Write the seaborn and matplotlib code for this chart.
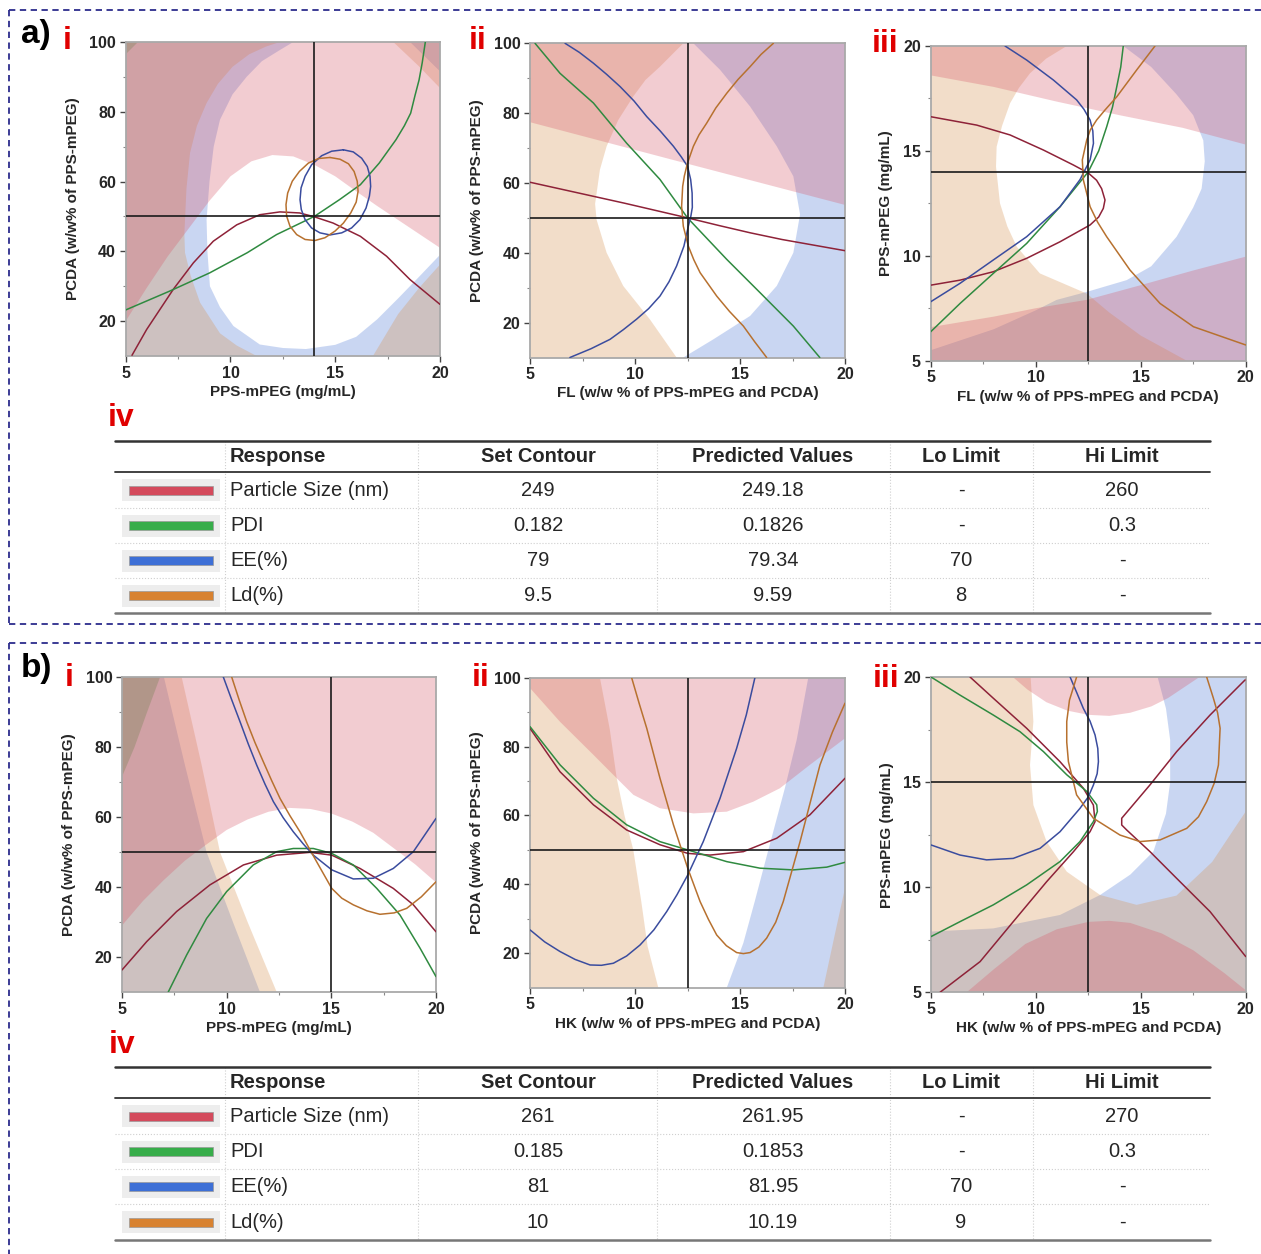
import matplotlib
matplotlib.use("Agg")
import matplotlib.pyplot as plt
from matplotlib.path import Path
from matplotlib.patches import PathPatch, Rectangle
import seaborn as sns

sns.set_theme(style="ticks")
plt.rcParams["font.family"] = ["Liberation Sans", "DejaVu Sans"]

W, H = 1261, 1254

# ---------------------------------------------------------------------------
# Response names and optimisation tables
# ---------------------------------------------------------------------------
HEADERS = ["Response", "Set Contour", "Predicted Values", "Lo Limit", "Hi Limit"]
RESPONSES = ["Particle Size (nm)", "PDI", "EE(%)", "Ld(%)"]
RESPONSE_KEYS = ["size", "pdi", "ee", "ld"]

A_SET = ["249", "0.182", "79", "9.5"]
A_PRED = ["249.18", "0.1826", "79.34", "9.59"]
A_LO = ["-", "-", "70", "8"]
A_HI = ["260", "0.3", "-", "-"]

B_SET = ["261", "0.185", "81", "10"]
B_PRED = ["261.95", "0.1853", "81.95", "10.19"]
B_LO = ["-", "-", "70", "9"]
B_HI = ["270", "0.3", "-", "-"]

A_XLABELS = ["PPS-mPEG (mg/mL)", "FL (w/w % of PPS-mPEG and PCDA)", "FL (w/w % of PPS-mPEG and PCDA)"]
A_YLABELS = ["PCDA (w/w% of PPS-mPEG)", "PCDA (w/w% of PPS-mPEG)", "PPS-mPEG (mg/mL)"]
B_XLABELS = ["PPS-mPEG (mg/mL)", "HK (w/w % of PPS-mPEG and PCDA)", "HK (w/w % of PPS-mPEG and PCDA)"]
B_YLABELS = ["PCDA (w/w% of PPS-mPEG)", "PCDA (w/w% of PPS-mPEG)", "PPS-mPEG (mg/mL)"]

# ---------------------------------------------------------------------------
# a-i : PPS-mPEG vs PCDA (FL fixed)
# ---------------------------------------------------------------------------
a1_cross = (14, 50)
a1_size = [(5.3, 10.2), (6.0, 17.6), (6.64, 23.4), (7.27, 29.1), (8.23, 36.7), (9.18, 42.9),
           (10.3, 47.6), (11.4, 50.5), (12.36, 51.3), (13.3, 51.0), (14.0, 49.9), (14.9, 48.1),
           (16.2, 44.3), (17.45, 38.6), (18.57, 31.9), (20, 24.8)]
a1_pdi = [(5, 23.2), (7.1, 28.6), (9.0, 33.8), (10.8, 39.6), (12.2, 44.8), (14, 50), (15.2, 54.8),
          (16.2, 59.1), (17.1, 65.3), (17.9, 72), (18.3, 76), (18.6, 79.6), (18.8, 84.5), (19.0, 89.1),
          (19.15, 94), (19.3, 100)]
a1_ee = [(15.39, 69.1), (15.86, 68.5), (16.26, 66.7), (16.53, 64.3), (16.66, 61.5), (16.69, 58.6),
         (16.63, 55.8), (16.47, 52.4), (16.18, 49.1), (15.78, 46.7), (15.31, 45.3), (14.75, 44.7),
         (14.27, 45.3), (13.87, 46.7), (13.56, 49.1), (13.38, 52.0), (13.32, 54.8), (13.37, 58.2),
         (13.56, 61.5), (13.87, 64.8), (14.35, 67.4), (14.83, 68.7), (15.39, 69.1)]
a1_ld = [(14.75, 66.9), (15.23, 66.4), (15.63, 65.1), (15.9, 62.9), (16.05, 60.1), (16.09, 57.2),
         (16.0, 54.1), (15.74, 51.0), (15.39, 48.1), (14.99, 45.8), (14.51, 43.9), (14.03, 43.1),
         (13.56, 43.4), (13.16, 44.8), (12.84, 47.2), (12.68, 50.1), (12.65, 53.4), (12.73, 56.7),
         (12.95, 60.1), (13.29, 62.9), (13.72, 65.3), (14.2, 66.6), (14.75, 66.9)]
a1_size_edge = [(5, 20), (6, 29.5), (7, 38.5), (8, 46.5), (9, 54.5), (10, 61.5), (11, 65.8), (12, 67.6),
                (13, 67.2), (14, 64.8), (15, 61.5), (16, 57.2), (17, 53), (18, 49), (19, 45), (20, 41)]
a1_pdi_edge = [(5, 96.5), (5, 100), (5.6, 100)]
a1_ee_edge = [(8.86, 49), (9.0, 60), (9.2, 70), (9.5, 77.7), (10.1, 85), (10.77, 90), (11.5, 94.5),
              (12.36, 97.7), (13, 100), (14, 104), (17, 104), (18.57, 100), (20, 91.6), (21, 85),
              (21, 45), (20, 39), (19, 32.7), (18, 26.5), (17, 20.5), (16, 15.5), (15, 13.2),
              (13.6, 12), (12.5, 12.3), (11.4, 13.3), (10.14, 18.6), (9.5, 24), (9.02, 30), (8.9, 40)]
a1_ld_edge = [(7.8, 45), (7.9, 58), (8.07, 68.2), (8.4, 76), (8.86, 82.5), (9.4, 88), (10.1, 92.9),
              (10.9, 96.5), (11.7, 98.7), (12.36, 100), (13, 103), (17, 103), (17.77, 100), (19, 93),
              (20, 86.8), (21, 80), (21, 40), (20, 36.2), (19, 29.5), (18, 22), (17.3, 15), (16.8, 10),
              (16.5, 7), (11.5, 7), (11.25, 10), (10.3, 13), (9.5, 16.5), (8.55, 25.3), (8.1, 33),
              (7.83, 39.6)]

# ---------------------------------------------------------------------------
# a-ii : FL vs PCDA (PPS-mPEG fixed)
# ---------------------------------------------------------------------------
a2_cross = (12.5, 50)
a2_size = [(5, 60.2), (6.5, 58.2), (8, 56.2), (9.5, 54.2), (11, 52.1), (12.5, 50), (14, 47.8),
           (15.5, 45.7), (17, 43.8), (18.5, 42.2), (20, 40.6)]
a2_pdi = [(5.24, 100), (6.43, 91.4), (8.02, 82.9), (9.6, 71.4), (11.19, 61), (12.5, 50), (14.37, 38.1),
          (15.95, 28.6), (17.54, 19), (18.8, 10)]
a2_ee = [(6.67, 100), (7.35, 97.4), (8.02, 94.3), (8.65, 91.1), (9.29, 87.6), (9.95, 83.5), (10.56, 79),
         (11.2, 74.9), (11.83, 70.5), (12.2, 67.5), (12.5, 64.8), (12.65, 61), (12.72, 57.1),
         (12.73, 53), (12.66, 50.5), (12.54, 47.6), (12.33, 41.9), (11.98, 36.2), (11.62, 31.7),
         (11.19, 27.6), (10.65, 24), (10.08, 21), (9.45, 18), (8.81, 15.2), (7.9, 12.5), (6.9, 10)]
a2_ld = [(16.59, 100), (16.0, 96.8), (15.48, 93.3), (14.9, 89.6), (14.37, 85.7), (13.85, 81.5),
         (13.41, 77.1), (13.05, 73.8), (12.78, 70.5), (12.5, 65.7), (12.35, 62), (12.27, 59),
         (12.22, 53.3), (12.3, 47.6), (12.54, 41.9), (12.8, 38), (13.1, 34.3), (13.89, 27.6),
         (14.5, 23.2), (15.16, 19), (15.7, 14.5), (16.27, 10)]
a2_size_edge = [(5, 77.4), (12.5, 65.5), (20, 53.7)]
a2_ld_edge = [(11.98, 10), (10.7, 21), (9.44, 30.5), (8.65, 40), (8.17, 49.5), (8.1, 54), (8.33, 63.8),
              (8.65, 70.5), (9.2, 78), (9.92, 84.8), (10.5, 89.5), (11.19, 93.3), (11.8, 97), (12.3, 100)]
a2_ee_edge = [(12.3, 10), (13.73, 15.2), (15.48, 21.9), (16.75, 30.5), (17.54, 40), (17.86, 51),
              (17.54, 61.9), (16.75, 70.5), (15.48, 81.9), (14.05, 92.4), (12.78, 100)]

# ---------------------------------------------------------------------------
# a-iii : FL vs PPS-mPEG (PCDA fixed)
# ---------------------------------------------------------------------------
a3_cross = (12.5, 14)
a3_size = [(5, 16.63), (7.19, 16.23), (8.78, 15.76), (10.37, 15.04), (11.79, 14.33), (12.5, 13.95),
           (12.9, 13.6), (13.14, 13.2), (13.3, 12.66), (13.22, 12.26), (13.0, 11.85), (12.59, 11.47),
           (11.16, 10.67), (9.57, 9.88), (7.98, 9.24), (6.4, 8.84), (5, 8.6)]
a3_pdi = [(5, 6.38), (6.4, 7.73), (7.98, 9.16), (9.57, 10.59), (11.16, 12.34), (12.5, 14),
          (13.0, 15.0), (13.38, 16.15), (13.66, 17.1), (13.86, 18.06), (14.05, 19.0), (14.17, 20)]
a3_ee = [(5, 7.81), (6.4, 8.69), (7.98, 9.8), (9.57, 10.91), (11.16, 12.34), (12.11, 13.63),
         (12.59, 14.57), (12.75, 15.36), (12.72, 15.95), (12.59, 16.47), (12.3, 16.98), (11.95, 17.43),
         (10.84, 18.38), (9.57, 19.33), (8.54, 20)]
a3_ld = [(15.68, 20), (14.81, 18.86), (13.86, 17.58), (13.3, 16.95), (12.9, 16.47), (12.6, 16.0),
         (12.43, 15.52), (12.22, 14.57), (12.27, 13.61), (12.59, 12.34), (12.95, 11.6), (13.38, 10.91),
         (14.49, 9.32), (15.92, 7.73), (17.51, 6.62), (20, 5.75)]
a3_size_top = [(5, 18.6), (8, 18.05), (11, 17.35), (14, 16.7), (17, 16.1), (20, 15.3)]
a3_size_bottom = [(5, 6.6), (8, 7.1), (10, 7.5), (12.43, 7.9), (15, 8.6), (17.5, 9.3), (20, 9.96)]
a3_ld_edge = [(11.48, 20), (10.5, 19.4), (9.73, 18.7), (9.2, 18), (8.78, 17.27), (8.4, 16.2),
              (8.14, 15.2), (8.11, 14.25), (8.3, 12.5), (8.65, 11.4), (9.1, 10.43), (10.2, 9.16),
              (11.5, 8.6), (12.43, 8.2), (13.5, 7.3), (15, 6.2), (17.19, 5)]
a3_ee_edge = [(14.17, 20), (15.5, 19), (16.7, 17.7), (17.5, 16.7), (17.98, 15.5), (18.05, 14.5),
              (17.9, 13.2), (17.5, 12.3), (16.71, 10.91), (15.5, 9.5), (14.33, 8.84), (12.5, 8.3),
              (11, 7.9), (10, 7.4), (8, 6.5), (5, 5.5)]

# ---------------------------------------------------------------------------
# b-i : PPS-mPEG vs PCDA (HK fixed)
# ---------------------------------------------------------------------------
b1_cross = (15, 50)
b1_size = [(5, 16.3), (6.18, 24.4), (7.61, 33), (9.2, 40.6), (10.8, 46.3), (12.39, 49.1), (13.98, 49.9),
           (15.02, 49.1), (16.37, 45.3), (17.96, 39.6), (18.92, 34.9), (20, 27.2)]
b1_pdi = [(7.21, 10), (8.09, 20.6), (9.04, 31), (10, 38.7), (11.27, 46.3), (12.39, 50.1), (13.18, 51),
          (14.14, 51), (15.02, 49.6), (16.05, 46.3), (17.17, 39.6), (18.28, 32), (19.24, 22.5), (20, 14.4)]
b1_ee = [(9.84, 100), (10.24, 93.5), (10.64, 87.2), (11.03, 80.9), (11.43, 74.9), (11.83, 69.4),
         (12.23, 64.4), (12.7, 59.8), (13.18, 55.8), (13.66, 52.3), (14.14, 49.1), (15.02, 44.9),
         (16.05, 42.3), (17.01, 42.5), (17.96, 45.3), (18.92, 50.1), (20, 59.6)]
b1_ld = [(10.24, 100), (10.6, 93.4), (10.96, 87.2), (11.35, 81.3), (11.75, 75.8), (12.15, 70.4),
         (12.55, 65.3), (13.02, 60.4), (13.5, 55.8), (14.3, 47.2), (15.02, 39.6), (15.5, 36.8),
         (16.05, 34.9), (16.7, 33.2), (17.32, 32.2), (18.0, 32.6), (18.6, 33.9), (19.3, 37.2), (20, 41.5)]
b1_size_edge = [(5, 29), (6, 36), (7, 42), (8, 47.5), (9, 52), (10, 56.3), (11, 59.3), (12, 61.5),
                (13, 62.6), (14, 62.3), (15, 61), (16, 58.7), (17, 55.5), (18, 51), (19, 46.5), (20, 41.3)]
b1_pdi_edge = [(6.82, 100), (6.2, 90), (5.6, 80), (5, 71.5)]
b1_ee_edge = [(7.0, 100), (8.0, 75), (9.04, 50), (10.3, 30), (11.59, 10)]
b1_ld_edge = [(7.85, 100), (8.8, 75), (9.68, 50), (11.0, 30), (12.39, 10)]

# ---------------------------------------------------------------------------
# b-ii : HK vs PCDA (PPS-mPEG fixed)
# ---------------------------------------------------------------------------
b2_cross = (12.5, 50)
b2_size = [(5, 85.3), (6.43, 72.7), (8.02, 63.1), (9.6, 55.8), (11.19, 51.5), (12.51, 49), (13.57, 48.5),
           (15.16, 49.5), (16.75, 53.4), (18.33, 60.2), (20, 70.8)]
b2_pdi = [(5, 85.8), (6.43, 74.7), (8.02, 65), (9.6, 57.3), (11.19, 52.4), (12.51, 50), (14.37, 46.6),
          (15.95, 44.7), (17.54, 44.2), (19.13, 45), (20, 46.4)]
b2_ee = [(5, 26.8), (5.7, 23.3), (6.43, 20.5), (7.15, 18.2), (7.86, 16.6), (8.4, 16.5), (8.97, 17.1),
         (9.6, 19.2), (10.24, 22.4), (10.9, 26.8), (11.51, 32.1), (12.0, 37.0), (12.51, 42.7),
         (13.25, 52.4), (14.05, 65), (14.84, 79.5), (15.3, 89.2), (15.71, 100)]
b2_ld = [(9.84, 100), (10.2, 92.5), (10.56, 85.3), (11.19, 70.8), (11.83, 57.3), (12.51, 44.7),
         (13.1, 35), (13.5, 29.8), (13.89, 25.3), (14.35, 22.2), (14.84, 20.2), (15.16, 19.9),
         (15.48, 20.2), (15.9, 21.8), (16.27, 24.4), (16.7, 29), (17.06, 35), (17.86, 52.4),
         (18.81, 74.7), (19.4, 84.2), (20, 92.6)]
b2_size_edge = [(5, 97), (6.43, 87.2), (8.02, 77.6), (9.13, 70.8), (9.92, 66), (11.19, 62.1), (12.78, 60.6),
                (14.37, 61.1), (15.63, 64), (16.9, 67.9), (18.33, 74.7), (20, 82.4)]
b2_ld_edge = [(8.33, 100), (8.8, 85), (9.13, 70.8), (9.5, 60), (9.92, 50), (10.3, 35), (10.6, 22), (11.11, 10)]
b2_ld_edge_right = [(18.97, 10), (19.5, 25), (20, 38.9)]
b2_ee_edge = [(18.25, 100), (17.7, 82), (17.14, 68), (16.35, 50), (15.7, 35), (15.16, 23), (14.37, 10)]

# ---------------------------------------------------------------------------
# b-iii : HK vs PPS-mPEG (PCDA fixed)
# ---------------------------------------------------------------------------
b3_cross = (12.5, 15)
b3_size_left = [(6.86, 20), (7.97, 18.99), (9.56, 17.56), (11.15, 15.97), (12.26, 14.71), (12.74, 13.91),
                (12.82, 13.12), (12.58, 12.64), (11.79, 11.69), (10.51, 10.26), (8.92, 8.36), (7.34, 6.46),
                (5.43, 5)]
b3_size_right = [(19.97, 19.86), (18.3, 18.19), (16.71, 16.45), (15.44, 14.87), (14.49, 13.75),
                 (14.09, 13.28), (14.09, 12.96), (14.33, 12.72), (15.44, 11.69), (16.71, 10.42),
                 (18.3, 8.84), (20, 6.7)]
b3_pdi = [(5, 20), (6.38, 19.14), (7.97, 18.19), (9.24, 17.4), (10.36, 16.45), (11.47, 15.35),
          (12.42, 14.56), (12.9, 13.92), (12.93, 13.6), (12.74, 13.12), (12.1, 12.17), (11.15, 11.22),
          (9.56, 10.11), (7.97, 9.16), (6.38, 8.36), (5, 7.65)]
b3_ee = [(5, 12.01), (6.38, 11.53), (7.65, 11.3), (8.92, 11.37), (10.2, 11.85), (11.15, 12.64),
         (12.1, 13.75), (12.5, 14.3), (12.74, 14.86), (12.92, 15.4), (12.98, 15.97), (12.95, 16.6),
         (12.82, 17.24), (12.58, 17.9), (12.26, 18.51), (11.95, 19.25), (11.63, 20)]
b3_ld = [(11.94, 20), (11.6, 18.9), (11.47, 17.88), (11.47, 16.9), (11.55, 15.97), (11.94, 14.39),
         (12.74, 13.28), (14.01, 12.48), (14.96, 12.17), (15.92, 12.25), (17.19, 12.8), (17.75, 13.35),
         (18.14, 14.07), (18.5, 14.95), (18.7, 15.81), (18.78, 17.56), (18.66, 18.3), (18.46, 18.99),
         (18.14, 20)]
b3_size_top = [(8.9, 20), (9.6, 19.4), (10.5, 18.8), (11.5, 18.4), (12.5, 18.2), (13.5, 18.15),
               (14.5, 18.3), (15.5, 18.6), (16.3, 19.0), (17.2, 19.6), (17.8, 20)]
b3_size_bottom = [(6.7, 5), (8, 6.1), (9.5, 7.3), (11, 8.0), (12.5, 8.35), (13.5, 8.4), (14.5, 8.3),
                  (16, 7.8), (17.5, 7.0), (19, 5.9), (20, 5.1)]
b3_ee_edge = [(4, 7.8), (5, 7.89), (7.97, 8.04), (11.15, 8.68), (13.06, 9.63), (14.5, 10.6), (15.6, 11.7),
              (16.2, 13.5), (16.4, 15), (16.4, 17), (16.2, 18.5), (15.8, 20), (15.5, 21), (4, 21)]
b3_ld_edge = [(9.6, 21), (9.75, 20), (9.88, 17.88), (9.72, 15.81), (9.88, 13.91), (10.51, 12.17),
              (11.47, 10.74), (13.06, 9.63), (14.8, 9.16), (16.7, 9.6), (18.4, 11.2), (20, 13.6),
              (21, 15), (21, 21)]

# ---------------------------------------------------------------------------
# Styling
# ---------------------------------------------------------------------------
FILL = {"size": "#d75869", "pdi": "#3f8f3a", "ee": "#4e7ad7", "ld": "#d7914e"}
LINE = {"size": "#8e2238", "pdi": "#2f8a40", "ee": "#3a4c9e", "ld": "#b7712f"}
SWATCH = {"size": "#d44a5c", "pdi": "#37ad4a", "ee": "#3d6fd6", "ld": "#d88230"}
FILL_ALPHA = 0.3
FILL_ORDER = ["ee", "ld", "pdi", "size"]
BORDER = "#2c2c8c"
LABEL_RED = "#e00000"


def px_rect(l, t, r, b):
    return [l / W, 1 - b / H, (r - l) / W, (b - t) / H]


def padded_corner(name, xlim, ylim):
    px = xlim[1] - xlim[0]
    py = ylim[1] - ylim[0]
    x = xlim[0] - px if name[1] == "l" else xlim[1] + px
    y = ylim[0] - py if name[0] == "b" else ylim[1] + py
    return (x, y)


def signed_area(pts):
    s = 0.0
    for (x0, y0), (x1, y1) in zip(pts, pts[1:] + pts[:1]):
        s += x0 * y1 - x1 * y0
    return 0.5 * s


def fill_side(ax, key, pts, corners, xlim, ylim):
    poly = list(pts) + [padded_corner(c, xlim, ylim) for c in corners]
    xs, ys = zip(*poly)
    ax.fill(xs, ys, color=FILL[key], alpha=FILL_ALPHA, lw=0, zorder=1)


def fill_inside(ax, key, pts):
    xs, ys = zip(*pts)
    ax.fill(xs, ys, color=FILL[key], alpha=FILL_ALPHA, lw=0, zorder=1)


def fill_outside(ax, key, pts, xlim, ylim):
    outer = [padded_corner(c, xlim, ylim) for c in ("bl", "br", "tr", "tl")]
    inner = list(pts)
    if (signed_area(outer) > 0) == (signed_area(inner) > 0):
        inner = inner[::-1]
    verts = outer + [outer[0]] + inner + [inner[0]]
    codes = ([Path.MOVETO] + [Path.LINETO] * (len(outer) - 1) + [Path.CLOSEPOLY]
             + [Path.MOVETO] + [Path.LINETO] * (len(inner) - 1) + [Path.CLOSEPOLY])
    patch = PathPatch(Path(verts, codes), facecolor=FILL[key], alpha=FILL_ALPHA, lw=0, zorder=1)
    ax.add_patch(patch)


def draw_curve(ax, key, pts):
    xs, ys = zip(*pts)
    sns.lineplot(x=list(xs), y=list(ys), sort=False, estimator=None, color=LINE[key],
                 linewidth=1.1, ax=ax, zorder=3)


PANELS = [
    dict(rect=(125.7, 42, 440, 356), ylim=(10, 100), yticks=[20, 40, 60, 80, 100],
         ylabel=A_YLABELS[0], xlabel=A_XLABELS[0], cross=a1_cross,
         fills=[("size", "side", a1_size_edge, ["tr", "tl"]), ("pdi", "inside", a1_pdi_edge, None),
                ("ee", "outside", a1_ee_edge, None), ("ld", "outside", a1_ld_edge, None)],
         curves=[("size", a1_size), ("pdi", a1_pdi), ("ee", a1_ee), ("ld", a1_ld)]),
    dict(rect=(530, 43.3, 845, 357.5), ylim=(10, 100), yticks=[20, 40, 60, 80, 100],
         ylabel=A_YLABELS[1], xlabel=A_XLABELS[1], cross=a2_cross,
         fills=[("size", "side", a2_size_edge, ["tr", "tl"]), ("ee", "side", a2_ee_edge, ["tr", "br"]),
                ("ld", "side", a2_ld_edge, ["tl", "bl"])],
         curves=[("size", a2_size), ("pdi", a2_pdi), ("ee", a2_ee), ("ld", a2_ld)]),
    dict(rect=(930.7, 46, 1245.7, 360.7), ylim=(5, 20), yticks=[5, 10, 15, 20],
         ylabel=A_YLABELS[2], xlabel=A_XLABELS[2], cross=a3_cross,
         fills=[("size", "side", a3_size_top, ["tr", "tl"]), ("size", "side", a3_size_bottom, ["br", "bl"]),
                ("ee", "side", a3_ee_edge, ["bl", "br", "tr"]), ("ld", "side", a3_ld_edge, ["bl", "tl"])],
         curves=[("size", a3_size), ("pdi", a3_pdi), ("ee", a3_ee), ("ld", a3_ld)]),
    dict(rect=(122, 677, 436, 992), ylim=(10, 100), yticks=[20, 40, 60, 80, 100],
         ylabel=B_YLABELS[0], xlabel=B_XLABELS[0], cross=b1_cross,
         fills=[("size", "side", b1_size_edge, ["tr", "tl"]), ("pdi", "side", b1_pdi_edge, ["tl"]),
                ("ee", "side", b1_ee_edge, ["bl", "tl"]), ("ld", "side", b1_ld_edge, ["bl", "tl"])],
         curves=[("size", b1_size), ("pdi", b1_pdi), ("ee", b1_ee), ("ld", b1_ld)]),
    dict(rect=(530, 677.7, 845, 987.7), ylim=(10, 100), yticks=[20, 40, 60, 80, 100],
         ylabel=B_YLABELS[1], xlabel=B_XLABELS[1], cross=b2_cross,
         fills=[("size", "side", b2_size_edge, ["tr", "tl"]), ("ee", "side", b2_ee_edge, ["br", "tr"]),
                ("ld", "side", b2_ld_edge, ["bl", "tl"]), ("ld", "side", b2_ld_edge_right, ["br"])],
         curves=[("size", b2_size), ("pdi", b2_pdi), ("ee", b2_ee), ("ld", b2_ld)]),
    dict(rect=(931, 677, 1245.7, 992.3), ylim=(5, 20), yticks=[5, 10, 15, 20],
         ylabel=B_YLABELS[2], xlabel=B_XLABELS[2], cross=b3_cross,
         fills=[("size", "side", b3_size_top, ["tr", "tl"]), ("size", "side", b3_size_bottom, ["br", "bl"]),
                ("ee", "outside", b3_ee_edge, None), ("ld", "outside", b3_ld_edge, None)],
         curves=[("size", b3_size_left), ("size", b3_size_right), ("pdi", b3_pdi), ("ee", b3_ee),
                 ("ld", b3_ld)]),
]

XLIM = (5, 20)

fig = plt.figure(figsize=(W / 100, H / 100), dpi=100)
fig.patch.set_facecolor("white")

for p in PANELS:
    ax = fig.add_axes(px_rect(*p["rect"]))
    ax.set_facecolor("white")
    ylim = p["ylim"]
    fills = sorted(p["fills"], key=lambda f: FILL_ORDER.index(f[0]))
    for key, kind, pts, corners in fills:
        if kind == "side":
            fill_side(ax, key, pts, corners, XLIM, ylim)
        elif kind == "inside":
            fill_inside(ax, key, pts)
        else:
            fill_outside(ax, key, pts, XLIM, ylim)
    for key, pts in p["curves"]:
        draw_curve(ax, key, pts)
    cx, cy = p["cross"]
    ax.axvline(cx, color="#1a1a1a", lw=1.2, zorder=4)
    ax.axhline(cy, color="#1a1a1a", lw=1.2, zorder=4)

    ax.set_xlim(*XLIM)
    ax.set_ylim(*ylim)
    ax.set_xticks([5, 10, 15, 20])
    ax.set_xticks([7.5, 12.5, 17.5], minor=True)
    ax.set_yticks(p["yticks"])
    if ylim[1] == 100:
        ax.set_yticks([30, 50, 70, 90], minor=True)
    else:
        ax.set_yticks([7.5, 12.5, 17.5], minor=True)
    ax.set_xticklabels([str(v) for v in [5, 10, 15, 20]])
    ax.set_yticklabels([str(v) for v in p["yticks"]])
    for s in ax.spines.values():
        s.set_visible(True)
        s.set_color("#a9a9a9")
        s.set_linewidth(1.3)
    ax.tick_params(which="major", direction="out", length=4, width=1, color="#444444",
                   labelsize=11.5, pad=3, bottom=True, left=True)
    ax.tick_params(which="minor", direction="out", length=2.5, width=0.8, color="#888888",
                   bottom=True, left=True)
    for lab in ax.get_xticklabels() + ax.get_yticklabels():
        lab.set_fontweight("bold")
    ax.set_xlabel(p["xlabel"], fontsize=11, fontweight="bold", labelpad=3)
    ax.set_ylabel(p["ylabel"], fontsize=11, fontweight="bold", labelpad=7)

# ---------------------------------------------------------------------------
# Overlay: panel borders, panel letters and response tables
# ---------------------------------------------------------------------------
ov = fig.add_axes([0, 0, 1, 1])
ov.set_xlim(0, W)
ov.set_ylim(H, 0)
ov.axis("off")
ov.patch.set_alpha(0)

dash = dict(color=BORDER, lw=1.3, linestyle=(0, (3.5, 2.5)))
ov.plot([9, 9], [10, 624], **dash)
ov.plot([9, W], [10, 10], **dash)
ov.plot([9, W], [624, 624], **dash)
ov.plot([9, 9], [643, H], **dash)
ov.plot([9, W], [643, 643], **dash)

ov.text(36, 35, "a)", fontsize=24, fontweight="bold", ha="center", va="center", color="black")
ov.text(36, 668, "b)", fontsize=24, fontweight="bold", ha="center", va="center", color="black")
sub_labels = [("i", 67, 41), ("ii", 478, 41), ("iii", 885, 44), ("iv", 121, 418),
              ("i", 69, 678), ("ii", 481, 678), ("iii", 886, 679), ("iv", 122, 1045)]
for txt, x, y in sub_labels:
    ov.text(x, y, txt, fontsize=23, fontweight="bold", ha="center", va="center", color=LABEL_RED)

COL_SEPS = [225, 418, 657, 890, 1033]
COL_CENTERS = [None, 538, 773, 961, 1122]
TABLE_X0, TABLE_X1 = 115, 1210


def draw_table(y_top, y_head, row_bottoms, set_vals, pred_vals, lo_vals, hi_vals):
    bottom = row_bottoms[-1]
    for x in COL_SEPS:
        ov.plot([x, x], [y_top, bottom], color="#cfcfcf", lw=0.8, linestyle=":")
    for yb in row_bottoms[:-1]:
        ov.plot([TABLE_X0, TABLE_X1], [yb, yb], color="#cfcfcf", lw=0.8, linestyle=":")
    ov.plot([TABLE_X0, TABLE_X1], [y_top, y_top], color="#333333", lw=1.8)
    ov.plot([TABLE_X0, TABLE_X1], [y_head, y_head], color="#333333", lw=1.3)
    ov.plot([TABLE_X0, TABLE_X1], [bottom, bottom], color="#777777", lw=1.8)

    hy = (y_top + y_head) / 2
    ov.text(230, hy, HEADERS[0], fontsize=14.5, fontweight="bold", ha="left", va="center")
    for label, cxp in zip(HEADERS[1:], COL_CENTERS[1:]):
        ov.text(cxp, hy, label, fontsize=14.5, fontweight="bold", ha="center", va="center")

    tops = [y_head] + row_bottoms[:-1]
    for i, key in enumerate(RESPONSE_KEYS):
        cy = (tops[i] + row_bottoms[i]) / 2
        ov.add_patch(Rectangle((122, cy - 11), 98, 22, facecolor="#ededed", edgecolor="none"))
        ov.add_patch(Rectangle((129, cy - 4.5), 84, 9, facecolor=SWATCH[key], edgecolor="#9a9a9a", lw=0.5))
        ov.text(230, cy, RESPONSES[i], fontsize=14.5, ha="left", va="center")
        for val, cxp in zip([set_vals[i], pred_vals[i], lo_vals[i], hi_vals[i]], COL_CENTERS[1:]):
            ov.text(cxp, cy, val, fontsize=14.5, ha="center", va="center")


draw_table(441, 472, [508, 543, 578, 613], A_SET, A_PRED, A_LO, A_HI)
draw_table(1067, 1098, [1134, 1169, 1204, 1240], B_SET, B_PRED, B_LO, B_HI)

fig.savefig("out.png", dpi=100, facecolor="white")
